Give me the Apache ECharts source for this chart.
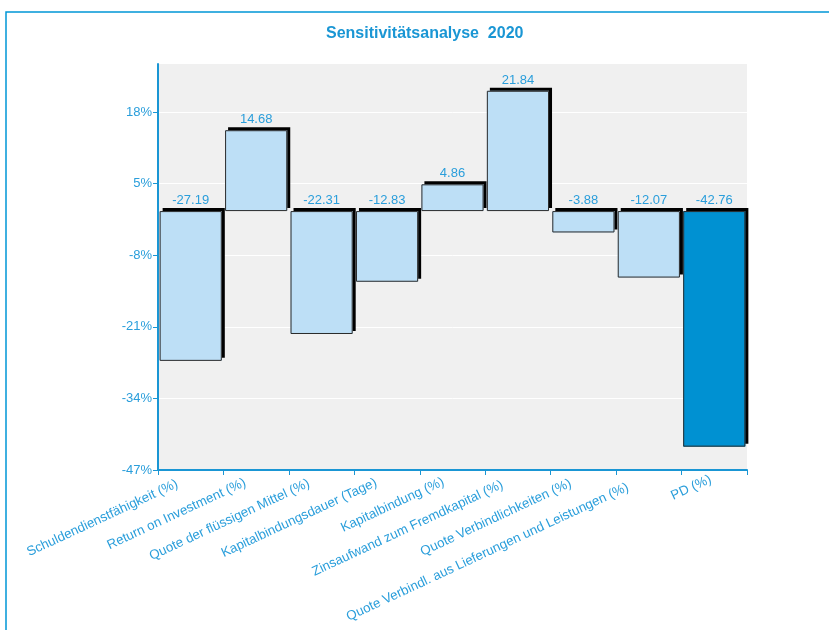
<!DOCTYPE html>
<html>
<head>
<meta charset="utf-8">
<script src="https://cdn.jsdelivr.net/npm/echarts@6/dist/echarts.min.js"></script>
<style>
html,body{margin:0;padding:0;background:#fff;}
#chart{width:829px;height:630px;}
</style>
</head>
<body>
<div id="chart"></div>
<script>
const categories = [
  'Schuldendienstfähigkeit (%)',
  'Return on Investment (%)',
  'Quote der flüssigen Mittel (%)',
  'Kapitalbindungsdauer (Tage)',
  'Kapitalbindung (%)',
  'Zinsaufwand zum Fremdkapital (%)',
  'Quote Verbindlichkeiten (%)',
  'Quote Verbindl. aus Lieferungen und Leistungen (%)',
  'PD (%)'
];
const values = [-27.19, 14.68, -22.31, -12.83, 4.86, 21.84, -3.88, -12.07, -42.76];
const yTicks = [-47, -34, -21, -8, 5, 18];
const highlightIndex = 8;

const textColor = '#2a9edb';
const axisColor = '#1a96d4';
const lightBar = '#bddff6';
const darkBar = '#0091d2';
const font = 'Liberation Sans, Arial, sans-serif';

// per-label shift along the rotated text (label placement of the original)
const labelShift = [15, 12, 14, 12, 10, 17, 14, 23, 4];
const rich = {};
labelShift.forEach((p, i) => {
  rich['l' + i] = {padding: [0, p, 0, 0], color: textColor, fontFamily: font, fontSize: 13.3};
});

const chart = echarts.init(document.getElementById('chart'), null, {renderer: 'canvas'});
chart.setOption({
  animation: false,
  backgroundColor: '#fff',
  title: {
    text: 'Sensitivitätsanalyse  2020',
    left: 321,
    top: 21,
    textStyle: {color: '#1a96d4', fontFamily: font, fontSize: 16, fontWeight: 'bold'}
  },
  graphic: [{
    type: 'rect',
    shape: {x: 6, y: 12, width: 900, height: 700},
    style: {fill: 'none', stroke: '#0096d6', lineWidth: 1.5},
    silent: true,
    z: -10
  }],
  grid: {
    left: 158, right: 82, top: 64, bottom: 160,
    show: true, backgroundColor: '#f0f0f0', borderWidth: 0
  },
  xAxis: {
    type: 'category',
    data: categories,
    axisLine: {onZero: false, lineStyle: {color: axisColor, width: 2}},
    axisTick: {show: true, length: 5, lineStyle: {color: axisColor, width: 1}},
    axisLabel: {
      rotate: 25, interval: 0, margin: 7,
      color: textColor, fontFamily: font, fontSize: 13.3,
      formatter: (v, i) => '{l' + i + '|' + v + '}',
      rich: rich
    }
  },
  yAxis: {
    type: 'value',
    min: -47, max: 26.7, interval: 13,
    axisLine: {show: true, lineStyle: {color: axisColor, width: 2}},
    axisTick: {show: true, length: 5, lineStyle: {color: axisColor}, customValues: yTicks},
    axisLabel: {
      customValues: yTicks,
      formatter: v => v + '%',
      color: textColor, fontFamily: font, fontSize: 13, margin: 6
    },
    splitLine: {show: true, lineStyle: {color: '#ffffff', width: 1}}
  },
  series: [{
    name: 'shadow',
    type: 'bar',
    data: values.map((v, i) => ({
      value: v,
      itemStyle: {color: i === highlightIndex ? darkBar : lightBar}
    })),
    barCategoryGap: '5%',
    barGap: '-100%',
    z: 2,
    itemStyle: {
      borderWidth: 0,
      shadowColor: '#000', shadowBlur: 0, shadowOffsetX: 3, shadowOffsetY: -3
    }
  }, {
    name: 'outline',
    type: 'bar',
    data: values,
    barCategoryGap: '5%',
    barGap: '-100%',
    z: 3,
    itemStyle: {color: 'rgba(0,0,0,0)', borderColor: '#2a2a2a', borderWidth: 1},
    label: {
      show: true, position: 'top', distance: 4,
      formatter: p => p.value.toFixed(2),
      color: textColor, fontFamily: font, fontSize: 13
    }
  }]
});
</script>
</body>
</html>
